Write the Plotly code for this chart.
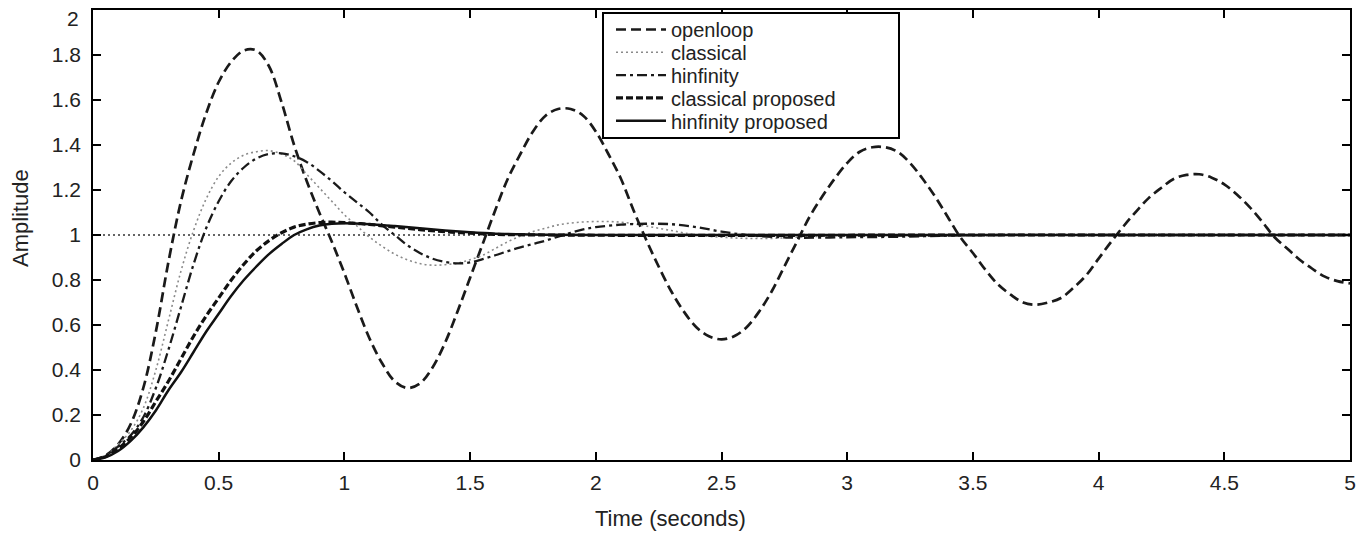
import plotly.graph_objects as go

# ---------------- data ----------------
t_open = [round(0.05 * i, 2) for i in range(101)]
y_open = [0.0, 0.02, 0.07, 0.16, 0.32, 0.57, 0.88, 1.15, 1.36, 1.54,
          1.68, 1.77, 1.82, 1.82, 1.75, 1.59, 1.40, 1.24, 1.10, 0.97,
          0.83, 0.68, 0.54, 0.43, 0.35, 0.32, 0.34, 0.41, 0.52, 0.66,
          0.81, 0.96, 1.11, 1.25, 1.36, 1.46, 1.53, 1.56, 1.56, 1.53,
          1.46, 1.36, 1.25, 1.11, 0.98, 0.86, 0.75, 0.66, 0.59, 0.55,
          0.536, 0.55, 0.59, 0.66, 0.75, 0.86, 0.97, 1.08, 1.17, 1.25,
          1.32, 1.37, 1.39, 1.39, 1.37, 1.32, 1.25, 1.17, 1.08, 0.99,
          0.92, 0.845, 0.78, 0.735, 0.70, 0.69, 0.70, 0.72, 0.765, 0.82,
          0.895, 0.97, 1.04, 1.105, 1.165, 1.21, 1.25, 1.267, 1.27, 1.255,
          1.225, 1.18, 1.125, 1.06, 0.99, 0.94, 0.89, 0.85, 0.815, 0.795,
          0.785]

t_classical = [0, 0.05, 0.1, 0.15, 0.2, 0.25, 0.3, 0.35, 0.4, 0.45, 0.5, 0.55,
               0.6, 0.65, 0.7, 0.75, 0.8, 0.85, 0.9, 0.95, 1.0, 1.05, 1.1, 1.15,
               1.2, 1.25, 1.3, 1.35, 1.4, 1.45, 1.5, 1.55, 1.6, 1.65, 1.7, 1.75,
               1.8, 1.85, 1.9, 1.95, 2.0, 2.05, 2.1, 2.15, 2.2, 2.3, 2.4, 2.5,
               2.6, 2.7, 2.8, 2.9, 3.0, 3.5, 4.0, 4.5, 5.0]
y_classical = [0, 0.02, 0.07, 0.13, 0.23, 0.40, 0.62, 0.84, 1.02, 1.16, 1.26, 1.32,
               1.355, 1.37, 1.375, 1.36, 1.33, 1.27, 1.21, 1.15, 1.09, 1.04, 0.99, 0.95,
               0.915, 0.89, 0.873, 0.866, 0.868, 0.875, 0.89, 0.91, 0.94, 0.97, 0.995, 1.015,
               1.03, 1.045, 1.053, 1.058, 1.06, 1.06, 1.057, 1.05, 1.04, 1.02, 1.0, 0.99,
               0.985, 0.985, 0.99, 0.995, 1.0, 1.0, 1.0, 1.0, 1.0]

t_hinf = [0, 0.05, 0.1, 0.15, 0.2, 0.25, 0.3, 0.35, 0.4, 0.45, 0.5, 0.55,
          0.6, 0.65, 0.7, 0.75, 0.8, 0.85, 0.9, 0.95, 1.0, 1.05, 1.1, 1.15,
          1.2, 1.25, 1.3, 1.35, 1.4, 1.45, 1.5, 1.55, 1.6, 1.65, 1.7, 1.75,
          1.8, 1.85, 1.9, 1.95, 2.0, 2.1, 2.2, 2.3, 2.4, 2.5, 2.6, 2.7,
          2.8, 3.0, 3.2, 3.4, 3.6, 4.0, 4.5, 5.0]
y_hinf = [0, 0.02, 0.06, 0.11, 0.19, 0.32, 0.49, 0.68, 0.87, 1.03, 1.15, 1.24,
          1.30, 1.34, 1.36, 1.363, 1.35, 1.325, 1.285, 1.24, 1.19, 1.145, 1.10, 1.045,
          1.0, 0.955, 0.92, 0.895, 0.88, 0.874, 0.878, 0.893, 0.91, 0.928, 0.945, 0.96,
          0.975, 0.993, 1.01, 1.025, 1.035, 1.046, 1.05, 1.048, 1.035, 1.015, 1.0, 0.992,
          0.988, 0.99, 0.992, 0.997, 1.0, 1.0, 1.0, 1.0]

t_cprop = [0, 0.05, 0.1, 0.15, 0.2, 0.25, 0.3, 0.35, 0.4, 0.45, 0.5, 0.55,
           0.6, 0.65, 0.7, 0.75, 0.8, 0.85, 0.9, 0.95, 1.0, 1.1, 1.2, 1.3,
           1.4, 1.5, 1.6, 1.8, 2.0, 2.5, 3.0, 3.5, 4.0, 4.5, 5.0]
y_cprop = [0, 0.015, 0.05, 0.10, 0.17, 0.26, 0.35, 0.45, 0.55, 0.64, 0.72, 0.80,
           0.87, 0.93, 0.975, 1.01, 1.035, 1.048, 1.055, 1.057, 1.055, 1.047, 1.035, 1.024,
           1.015, 1.008, 1.003, 1.0, 0.999, 0.998, 0.999, 1.0, 1.0, 1.0, 1.0]

t_hprop = [0, 0.05, 0.1, 0.15, 0.2, 0.25, 0.3, 0.35, 0.4, 0.45, 0.5, 0.55,
           0.6, 0.65, 0.7, 0.75, 0.8, 0.85, 0.9, 0.95, 1.0, 1.1, 1.2, 1.3,
           1.4, 1.5, 1.6, 1.7, 1.8, 2.0, 3.0, 4.0, 5.0]
y_hprop = [0, 0.012, 0.04, 0.085, 0.145, 0.22, 0.31, 0.39, 0.48, 0.57, 0.65, 0.73,
           0.80, 0.86, 0.915, 0.96, 1.0, 1.025, 1.042, 1.05, 1.052, 1.048, 1.04, 1.03,
           1.02, 1.012, 1.006, 1.003, 1.001, 1.0, 1.0, 1.0, 1.0]

t_ref = [0, 5]
y_ref = [1, 1]

x_tickvals = [0, 0.5, 1, 1.5, 2, 2.5, 3, 3.5, 4, 4.5, 5]
x_ticktext = ["0", "0.5", "1", "1.5", "2", "2.5", "3", "3.5", "4", "4.5", "5"]
y_tickvals = [0, 0.2, 0.4, 0.6, 0.8, 1, 1.2, 1.4, 1.6, 1.8, 2]
y_ticktext = ["0", "0.2", "0.4", "0.6", "0.8", "1", "1.2", "1.4", "1.6", "1.8", "2"]

series_names = ["openloop", "classical", "hinfinity", "classical proposed", "hinfinity proposed"]
x_title = "Time (seconds)"
y_title = "Amplitude"

# ---------------- layout geometry (page pixels; body margin removed below) ----------------
W, H = 1363, 538
L, R, T, B = 93, 1350, 10, 460
PW, PH = R - L, B - T


def px(page_x):
    return (page_x - L) / PW


def py(page_y):
    return (B - page_y) / PH


FONT = "Liberation Sans, Arial, Helvetica, sans-serif"
TXT = "#222222"

fig = go.Figure()

fig.add_trace(go.Scatter(x=t_ref, y=y_ref, mode="lines", showlegend=False,
                         line=dict(color="#333333", width=1.5, dash="2px,3px")))

styles = [
    dict(color="#1a1a1a", width=2.7, dash="10px,5px"),
    dict(color="#8a8a8a", width=1.6, dash="2px,3px"),
    dict(color="#1a1a1a", width=2.3, dash="10px,4px,3px,4px"),
    dict(color="#111111", width=3.2, dash="7px,3px"),
    dict(color="#111111", width=2.5, dash="solid"),
]
xs = [t_open, t_classical, t_hinf, t_cprop, t_hprop]
ys = [y_open, y_classical, y_hinf, y_cprop, y_hprop]
legend_ids = ["legend", "legend2", "legend3", "legend4", "legend5"]
row_y = [29.5, 52.3, 75.1, 97.9, 120.7]

for i in range(5):
    fig.add_trace(go.Scatter(x=xs[i], y=ys[i], mode="lines", name=series_names[i],
                             legend=legend_ids[i],
                             line=dict(shape="spline", **styles[i])))

axis_common = dict(showline=True, linecolor="black", linewidth=1.5, mirror="ticks",
                   ticks="inside", ticklen=8, tickwidth=1.5, tickcolor="black",
                   showgrid=False, zeroline=False, automargin=False,
                   tickfont=dict(family=FONT, size=21, color=TXT))

# the top y label sits just inside the figure (drawn as an annotation below)
y_axis_text = y_ticktext[:-1] + [""]

fig.update_xaxes(range=[0, 5], tickvals=x_tickvals, ticktext=x_ticktext,
                 ticklabelstandoff=3, **axis_common)
fig.update_yaxes(range=[0, 2], tickvals=y_tickvals, ticktext=y_axis_text,
                 ticklabelstandoff=6, **axis_common)

fig.add_annotation(text=y_ticktext[-1], xref="paper", yref="paper", x=px(81), y=py(18),
                   xanchor="right", yanchor="middle", showarrow=False,
                   font=dict(family=FONT, size=21, color=TXT))

# legend frame
fig.add_shape(type="rect", xref="paper", yref="paper",
              x0=px(603), x1=px(899), y0=py(138), y1=py(13),
              line=dict(color="black", width=2), fillcolor="white", layer="above")

legend_layout = {}
for i, lid in enumerate(legend_ids):
    legend_layout[lid] = dict(x=px(611), y=py(row_y[i]), xanchor="left", yanchor="middle",
                              bgcolor="rgba(0,0,0,0)", borderwidth=0, itemwidth=50,
                              font=dict(family=FONT, size=20, color=TXT))

# axis titles
fig.add_annotation(text=x_title, xref="paper", yref="paper", x=px(670), y=py(518),
                   xanchor="center", yanchor="middle", showarrow=False,
                   font=dict(family=FONT, size=22, color=TXT))
fig.add_annotation(text=y_title, xref="paper", yref="paper", x=px(20), y=py(218),
                   xanchor="center", yanchor="middle", showarrow=False, textangle=-90,
                   font=dict(family=FONT, size=22, color=TXT))

fig.update_layout(
    width=W, height=H,
    margin=dict(l=L, r=W - R, t=T, b=H - B, autoexpand=False),
    paper_bgcolor="white", plot_bgcolor="white",
    font=dict(family=FONT, size=20, color=TXT),
    showlegend=True,
    **legend_layout,
)

fig.write_html("out.html",
               config={"displayModeBar": False},
               post_script="document.body.style.margin='0';document.body.style.overflow='hidden';")
